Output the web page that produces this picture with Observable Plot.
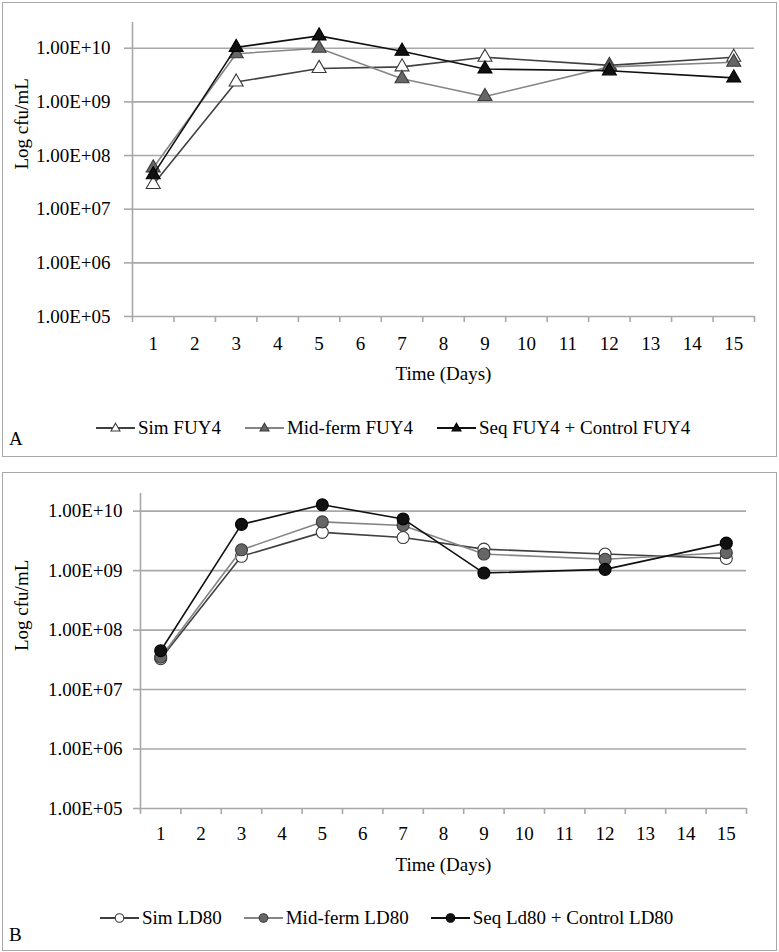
<!DOCTYPE html>
<html>
<head>
<meta charset="utf-8">
<script src="https://cdn.jsdelivr.net/npm/d3@7"></script>
<script src="https://cdn.jsdelivr.net/npm/@observablehq/plot@0.6"></script>
<style>
  html, body { margin: 0; padding: 0; background: #fff; }
  body { width: 779px; height: 952px; position: relative; overflow: hidden;
         font-family: "Liberation Serif", "Times New Roman", serif; color: #000; }
  .frame { position: absolute; box-sizing: border-box; border: 1.5px solid #a8a8a8; }
  .plot { position: absolute; left: 0; }
  .legend { position: absolute; display: flex; align-items: center; height: 22px; font-size: 19px; white-space: nowrap; }
  .legend .item { display: flex; align-items: center; }
  .legend svg { display: block; }
  .legend span { margin-left: 3px; }
  .letter { position: absolute; left: 9px; font-size: 19px; line-height: 22px; }
</style>
</head>
<body>
<script>
// ---- data ----
const days = [1, 3, 5, 7, 9, 12, 15];
const dayTicks = [1, 2, 3, 4, 5, 6, 7, 8, 9, 10, 11, 12, 13, 14, 15];
const yTicks = [1e5, 1e6, 1e7, 1e8, 1e9, 1e10];

const seriesNamesA = ["Sim FUY4", "Mid-ferm FUY4", "Seq FUY4 + Control FUY4"];
const simFUY4 = [2.9e7, 2.35e9, 4.2e9, 4.5e9, 6.8e9, 4.8e9, 6.8e9];
const midFUY4 = [5.9e7, 7.9e9, 1.0e10, 2.7e9, 1.26e9, 4.5e9, 5.5e9];
const seqFUY4 = [4.4e7, 1.04e10, 1.7e10, 8.8e9, 4.1e9, 3.8e9, 2.8e9];

const seriesNamesB = ["Sim LD80", "Mid-ferm LD80", "Seq Ld80 + Control LD80"];
const simLD80 = [3.3e7, 1.74e9, 4.4e9, 3.6e9, 2.3e9, 1.9e9, 1.6e9];
const midLD80 = [3.5e7, 2.24e9, 6.6e9, 5.75e9, 1.9e9, 1.55e9, 2.0e9];
const seqLD80 = [4.5e7, 6.0e9, 1.28e10, 7.4e9, 9.1e8, 1.05e9, 2.9e9];

// ---- styles ----
const gridColor = "#a8a8a8";
const seriesStyles = [
  {line: "#404040", fill: "#ffffff", stroke: "#3a3a3a"},
  {line: "#858585", fill: "#666666", stroke: "#3a3a3a"},
  {line: "#111111", fill: "#111111", stroke: "#000000"}
];
const fontFamily = "'Liberation Serif', 'Times New Roman', serif";
const fmt = d => "1.00E+" + String(Math.round(Math.log10(d))).padStart(2, "0");
const boundaries = d3.range(0.5, 15.6, 1);

function panel(cfg) {
  const data = cfg.values.map((vals, k) => days.map((d, i) => ({day: d, v: vals[i], k})));
  const marks = [
    Plot.gridY(yTicks, {stroke: gridColor, strokeOpacity: 1, strokeWidth: 1.6}),
    Plot.axisY(yTicks, {tickSize: cfg.yTickSize, tickPadding: cfg.yTickPad, tickFormat: fmt,
                        stroke: gridColor, strokeWidth: 1.6, label: null}),
    Plot.ruleX([0.5], {stroke: gridColor, strokeWidth: 1.6}),
    Plot.axisX(boundaries, {tickSize: 6, tickFormat: () => "", stroke: gridColor, strokeWidth: 1.6, label: null}),
    Plot.axisX(dayTicks, {tickSize: 0, tickPadding: cfg.xPad, label: null}),
    Plot.text(["Time (Days)"], {text: d => d, frameAnchor: "bottom", dy: cfg.titleDy, lineAnchor: "middle"}),
    Plot.text(["Log cfu/mL"], {text: d => d, frameAnchor: "left", rotate: -90, dx: cfg.yTitleDx, lineAnchor: "middle"})
  ];
  data.forEach((rows, k) => {
    const st = seriesStyles[k];
    marks.push(Plot.line(rows, {x: "day", y: "v", stroke: st.line, strokeWidth: 1.6}));
    marks.push(Plot.dot(rows, {x: "day", y: "v", symbol: cfg.symbol, r: cfg.r,
                               fill: st.fill, stroke: st.stroke, strokeWidth: 1.1}));
  });
  const svg = Plot.plot({
    width: 779, height: cfg.height,
    marginTop: cfg.marginTop, marginBottom: cfg.marginBottom,
    marginLeft: cfg.marginLeft, marginRight: cfg.marginRight,
    style: {fontFamily, fontSize: "19px", color: "#000", background: "transparent", overflow: "visible"},
    x: {domain: [0.5, 15.5]},
    y: {type: "log", domain: [1e5, cfg.yMax]},
    marks
  });
  svg.classList.add("plot");
  svg.style.top = cfg.top + "px";
  svg.style.position = "absolute";
  return svg;
}

function legend(names, symbol, top, left, gap) {
  const div = document.createElement("div");
  div.className = "legend";
  div.style.top = top + "px";
  div.style.left = left + "px";
  div.style.gap = gap + "px";
  names.forEach((name, k) => {
    const st = seriesStyles[k];
    const item = document.createElement("div");
    item.className = "item";
    const marker = symbol === "circle"
      ? `<circle cx="19.5" cy="11" r="4.3" fill="${st.fill}" stroke="${st.stroke}" stroke-width="1.1"/>`
      : `<path d="M19.5,6.2 L24,14 L15,14 Z" fill="${st.fill}" stroke="${st.stroke}" stroke-width="1.1"/>`;
    item.innerHTML = `<svg width="39" height="22"><line x1="0" x2="39" y1="11" y2="11" stroke="${st.line}" stroke-width="1.8"/>${marker}</svg><span>${name}</span>`;
    div.appendChild(item);
  });
  return div;
}

function frame(top, height) {
  const f = document.createElement("div");
  f.className = "frame";
  f.style.left = "2px"; f.style.top = top + "px";
  f.style.width = "775px"; f.style.height = height + "px";
  return f;
}
function letter(t, top) {
  const d = document.createElement("div");
  d.className = "letter"; d.textContent = t; d.style.top = top + "px";
  return d;
}

document.body.appendChild(frame(2, 455));
document.body.appendChild(frame(472, 479));

document.body.appendChild(panel({
  values: [simFUY4, midFUY4, seqFUY4], symbol: "triangle", r: 5.2,
  top: 0, height: 390, marginTop: 22, marginBottom: 74, marginLeft: 132, marginRight: 25,
  yMax: Math.pow(10, 10.48), yTickSize: 8, yTickPad: 14, xPad: 20, titleDy: 57, yTitleDx: -111
}));
document.body.appendChild(panel({
  values: [simLD80, midLD80, seqLD80], symbol: "circle", r: 6,
  top: 470, height: 420, marginTop: 23, marginBottom: 82, marginLeft: 140, marginRight: 33,
  yMax: Math.pow(10, 10.297), yTickSize: 7, yTickPad: 11, xPad: 17.5, titleDy: 56.5, yTitleDx: -119
}));

document.body.appendChild(legend(seriesNamesA, "triangle", 417, 96, 24));
document.body.appendChild(legend(seriesNamesB, "circle", 907, 100, 22));
document.body.appendChild(letter("A", 428));
document.body.appendChild(letter("B", 924));
</script>
</body>
</html>
